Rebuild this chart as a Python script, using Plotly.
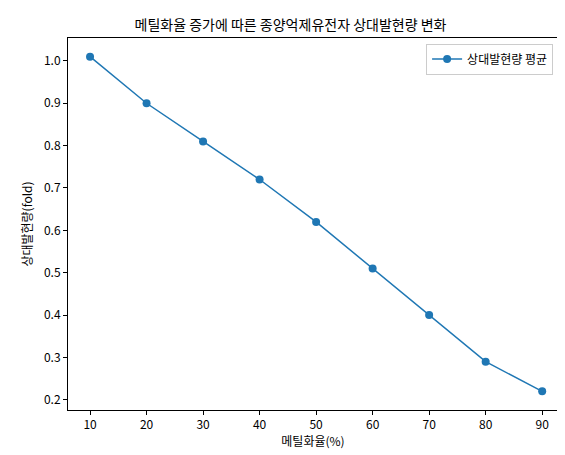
import plotly.graph_objects as go

methylation = [10, 20, 30, 40, 50, 60, 70, 80, 90]
expression = [1.01, 0.90, 0.81, 0.72, 0.62, 0.51, 0.40, 0.29, 0.22]
x_ticks = [10, 20, 30, 40, 50, 60, 70, 80, 90]
y_ticks = [0.2, 0.3, 0.4, 0.5, 0.6, 0.7, 0.8, 0.9, 1.0]

font = "Noto Sans CJK KR"
fig = go.Figure(go.Scatter(
    x=methylation, y=expression, mode="lines+markers", name="상대발현량 평균",
    line=dict(color="#1f77b4", width=1.5), marker=dict(size=8, color="#1f77b4"),
    showlegend=True))
axis = dict(showgrid=False, zeroline=False, showline=True, mirror=True,
            linecolor="black", linewidth=1, ticks="outside", ticklen=4,
            tickcolor="black", tickfont=dict(size=12, color="black"), automargin=False)
fig.update_layout(
    width=565, height=455, margin=dict(l=60, r=15, t=30, b=53),
    plot_bgcolor="white", paper_bgcolor="white",
    font=dict(family=font, size=12, color="black"),
    title=dict(text="메틸화율 증가에 따른 종양억제유전자 상대발현량 변화",
               x=0.5, xanchor="center", y=0.962, yanchor="middle", font=dict(size=14),
               automargin=False),
    xaxis=dict(axis, range=[6.1, 92.8], tickvals=x_ticks,
               title=dict(text="메틸화율(%)", standoff=6, font=dict(size=12))),
    yaxis=dict(axis, range=[0.176, 1.054], tickvals=y_ticks, tickformat=".1f",
               title=dict(text="상대발현량(fold)", standoff=8, font=dict(size=12))),
    legend=dict(x=0.99, y=0.985, xanchor="right", yanchor="top",
                bordercolor="#cccccc", borderwidth=1, bgcolor="white",
                font=dict(size=12)),
)
fig.write_html("out.html")
